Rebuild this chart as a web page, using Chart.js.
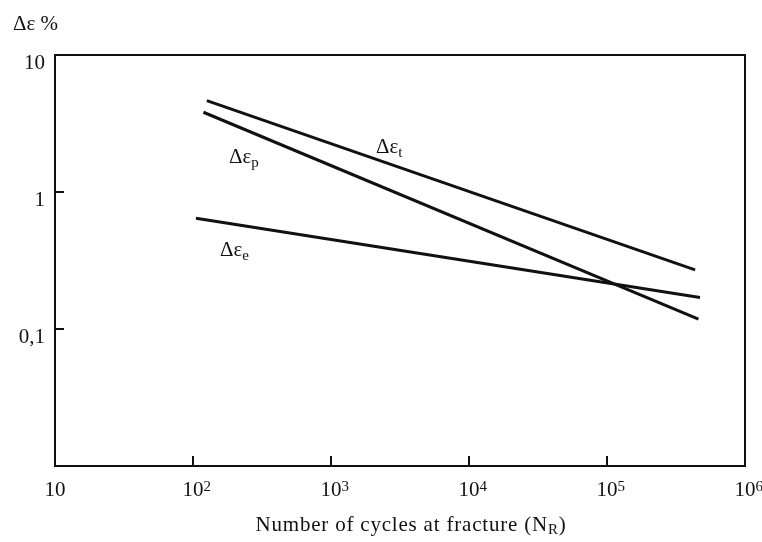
<!DOCTYPE html>
<html>
<head>
<meta charset="utf-8">
<script src="https://cdn.jsdelivr.net/npm/chart.js@4.4.0/dist/chart.umd.min.js"></script>
<style>
  html, body { margin: 0; padding: 0; background: #fff; }
  canvas { display: block; }
</style>
</head>
<body>
<canvas id="chart" width="762" height="542"></canvas>
<script>
// Strain amplitude vs cycles to fracture (log-log)
const totalX = [126, 435000];
const totalY = [4.64, 0.27];
const plasticX = [119, 460000];
const plasticY = [3.82, 0.118];
const elasticX = [105, 472000];
const elasticY = [0.643, 0.170];

const xTicks = [10, 100, 1000, 10000, 100000, 1000000];
const xTickExp = ['', '2', '3', '4', '5', '6'];
const yTicks = [10, 1, 0.1];
const yTickLabels = ['10', '1', '0,1'];

// line labels: name, subscript, anchor (data coords)
const lineLabelNames = ['Δε', 'Δε', 'Δε'];
const lineLabelSubs = ['t', 'p', 'e'];
const lineLabelX = [2120, 182, 157];
const lineLabelY = [2.13, 1.80, 0.377];

const FONT = '"Liberation Serif", "DejaVu Serif", serif';
const BIG = '21px ' + FONT;
const SMALL = '15px ' + FONT;

function pts(xs, ys) {
  return xs.map((x, i) => ({ x, y: ys[i] }));
}

function lineSet(label, xs, ys) {
  return {
    label,
    data: pts(xs, ys),
    borderColor: '#111',
    borderWidth: 3,
    pointRadius: 0,
    fill: false,
    tension: 0,
  };
}

const decor = {
  id: 'decor',
  afterDraw(chart) {
    const { ctx, chartArea: a, scales } = chart;
    const xs = scales.x, ys = scales.y;
    ctx.save();
    ctx.strokeStyle = '#111';
    ctx.lineWidth = 2;
    ctx.strokeRect(a.left, a.top, a.right - a.left, a.bottom - a.top);

    // inward tick marks
    ctx.beginPath();
    xTicks.slice(1, -1).forEach((v) => {
      const px = Math.round(xs.getPixelForValue(v));
      ctx.moveTo(px, a.bottom);
      ctx.lineTo(px, a.bottom - 10);
    });
    yTicks.slice(1).forEach((v) => {
      const py = Math.round(ys.getPixelForValue(v));
      ctx.moveTo(a.left, py);
      ctx.lineTo(a.left + 9, py);
    });
    ctx.stroke();

    ctx.fillStyle = '#111';
    ctx.textBaseline = 'alphabetic';

    // x tick labels with exponents
    xTicks.forEach((v, i) => {
      const px = xs.getPixelForValue(v);
      ctx.font = BIG;
      ctx.textAlign = 'center';
      ctx.fillText('10', px, a.bottom + 30);
      if (xTickExp[i]) {
        const w = ctx.measureText('10').width;
        ctx.font = SMALL;
        ctx.textAlign = 'left';
        ctx.fillText(xTickExp[i], px + w / 2, a.bottom + 25);
      }
    });

    // y tick labels
    ctx.font = BIG;
    ctx.textAlign = 'right';
    yTicks.forEach((v, i) => {
      const py = ys.getPixelForValue(v);
      ctx.fillText(yTickLabels[i], 45, py + 14);
    });

    // y axis title
    ctx.textAlign = 'left';
    ctx.fillText('Δε %', 13, 30);

    // x axis title
    ctx.letterSpacing = '0.8px';
    ctx.font = BIG;
    const t1 = 'Number of cycles at fracture (N';
    const tSub = 'R';
    const t2 = ')';
    const w1 = ctx.measureText(t1).width;
    const w2 = ctx.measureText(t2).width;
    ctx.font = SMALL;
    const wSub = ctx.measureText(tSub).width;
    const total = w1 + wSub + w2;
    const x0 = 411 - total / 2;
    const by = 531;
    ctx.font = BIG;
    ctx.fillText(t1, x0, by);
    ctx.font = SMALL;
    ctx.fillText(tSub, x0 + w1, by + 3);
    ctx.font = BIG;
    ctx.fillText(t2, x0 + w1 + wSub, by);
    ctx.letterSpacing = '0px';

    // line labels
    lineLabelNames.forEach((name, i) => {
      const px = xs.getPixelForValue(lineLabelX[i]);
      const py = ys.getPixelForValue(lineLabelY[i]);
      ctx.font = BIG;
      ctx.fillText(name, px, py + 6);
      const w = ctx.measureText(name).width;
      ctx.font = SMALL;
      ctx.fillText(lineLabelSubs[i], px + w, py + 10);
    });
    ctx.restore();
  },
};

new Chart(document.getElementById('chart'), {
  type: 'line',
  data: {
    datasets: [
      lineSet('Δεt', totalX, totalY),
      lineSet('Δεp', plasticX, plasticY),
      lineSet('Δεe', elasticX, elasticY),
    ],
  },
  options: {
    responsive: false,
    animation: false,
    devicePixelRatio: 1,
    layout: { padding: { top: 55, right: 17, left: 0, bottom: 0 } },
    plugins: { legend: { display: false }, tooltip: { enabled: false } },
    scales: {
      x: {
        type: 'logarithmic',
        min: 10,
        max: 1000000,
        grid: { display: false },
        border: { display: false },
        ticks: { display: false },
        afterFit: (s) => { s.height = 76; },
      },
      y: {
        type: 'logarithmic',
        min: 0.01,
        max: 10,
        grid: { display: false },
        border: { display: false },
        ticks: { display: false },
        afterFit: (s) => { s.width = 55; },
      },
    },
  },
  plugins: [decor],
});
</script>
</body>
</html>
